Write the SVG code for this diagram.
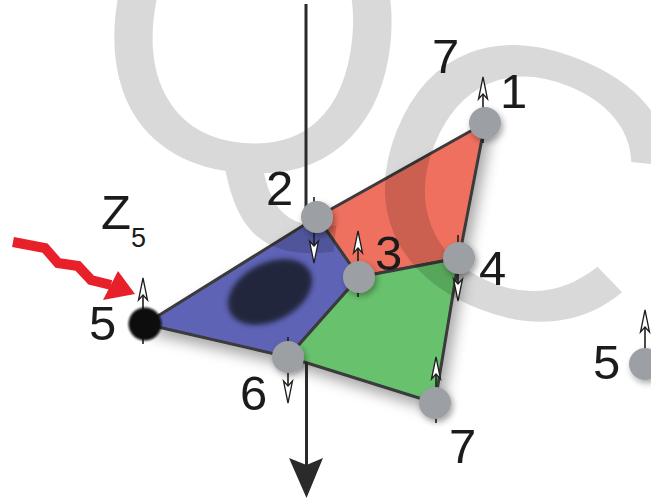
<svg xmlns="http://www.w3.org/2000/svg" width="651" height="499" viewBox="0 0 651 499">
<style>
.lbl{font-family:"Liberation Sans",Arial,sans-serif;font-size:49px;fill:#1b1b1b}
.wm{font-family:"Liberation Sans",Arial,sans-serif;fill:#000;fill-opacity:0.15}
.face{stroke:#3a3a3a;stroke-width:3;stroke-linejoin:round}
.node{fill:#9c9fa3}
.axis{stroke:#2a2a2a;stroke-width:3;fill:none}
</style>
<defs>
<filter id="shadow" x="-20%" y="-20%" width="150%" height="150%">
<feDropShadow dx="5" dy="8" stdDeviation="7" flood-color="#000" flood-opacity="0.35"/>
</filter>
<filter id="nshadow" x="-50%" y="-50%" width="200%" height="200%">
<feDropShadow dx="2" dy="3" stdDeviation="3" flood-color="#000" flood-opacity="0.35"/>
</filter>
<filter id="blur" x="-30%" y="-30%" width="160%" height="160%">
<feGaussianBlur stdDeviation="2.8"/>
</filter>
<filter id="soft" x="-50%" y="-50%" width="200%" height="200%">
<feGaussianBlur stdDeviation="1.2"/>
</filter>
<g id="spinUp">
<line x1="0" y1="20" x2="0" y2="-40" stroke="#1e1e1e" stroke-width="1.6"/>
<polygon points="0,-46 -4.5,-24 0,-29 4.5,-24" fill="#fff" stroke="#1e1e1e" stroke-width="1.3" stroke-linejoin="miter"/>
</g>
<g id="spinDown">
<use href="#spinUp" transform="rotate(180)"/>
</g>
</defs>
<rect width="651" height="499" fill="#fff"/>

<g id="faces" filter="url(#shadow)">
<polygon id="face-red" class="face" fill="#ef6f5f" points="317,217 485,123 459,258 359,277"/>
<polygon id="face-blue" class="face" fill="#5f64b6" points="145,324 317,217 359,277 288,357"/>
<polygon id="face-green" class="face" fill="#67c26d" points="359,277 459,258 435,403 288,357"/>
</g>
<ellipse cx="270" cy="292" rx="45" ry="29" transform="rotate(-27 270 292)" fill="#24253e" filter="url(#blur)"/>

<g id="watermark">
<text class="wm" x="-157" y="145" font-size="405" transform="translate(253 25) rotate(6)">Q</text>
<text class="wm" x="-139" y="136" font-size="380" transform="translate(523 176) rotate(22) scale(1.12 1)">C</text>
</g>

<g id="connectors">
<line class="axis" x1="306" y1="4" x2="306" y2="222"/>
<line class="axis" x1="306.5" y1="362" x2="306.5" y2="466"/>
<polygon points="289,458 306.5,498 323,458 306.5,465" fill="#2a2a2a"/>
</g>

<g id="red-arrow">
<polyline points="13,242 45,248 58,263 78,266 91,280 111,285" fill="none" stroke="#e8202a" stroke-width="10" stroke-linejoin="miter"/>
<polygon points="103,300 118,271 135,294" fill="#e8202a"/>
</g>

<g id="node-1"><use href="#spinUp" x="483" y="123"/><circle class="node" cx="485" cy="123" r="16" filter="url(#nshadow)"/><text class="lbl" x="500" y="108">1</text></g>
<g id="node-2"><use href="#spinDown" x="314" y="217"/><circle class="node" cx="317" cy="217" r="16" filter="url(#nshadow)"/><text class="lbl" x="266" y="205">2</text></g>
<g id="node-3"><use href="#spinUp" x="358" y="277"/><circle class="node" cx="359" cy="277" r="16" filter="url(#nshadow)"/><text class="lbl" x="375" y="270">3</text></g>
<g id="node-4"><use href="#spinDown" x="458" y="255"/><circle class="node" cx="459" cy="258" r="16" filter="url(#nshadow)"/><text class="lbl" x="479" y="285">4</text></g>
<g id="node-5"><use href="#spinUp" x="143" y="324"/><circle cx="145" cy="324" r="16.5" fill="#0a0a0a" filter="url(#soft)"/><text class="lbl" x="89" y="340">5</text>
<text class="lbl" x="101" y="229">Z</text><text class="lbl" x="131" y="247" style="font-size:27px">5</text></g>
<g id="node-6"><use href="#spinDown" x="288" y="357"/><circle class="node" cx="288" cy="357" r="16" filter="url(#nshadow)"/><text class="lbl" x="240" y="410">6</text></g>
<g id="node-7"><use href="#spinUp" x="436" y="403"/><circle class="node" cx="435" cy="403" r="16" filter="url(#nshadow)"/><text class="lbl" x="449" y="463">7</text><text class="lbl" x="432" y="73">7</text></g>
<g id="node-5b"><use href="#spinUp" x="645" y="356"/><circle class="node" cx="645" cy="364" r="16" filter="url(#nshadow)"/><text class="lbl" x="593" y="379">5</text></g>
</svg>
